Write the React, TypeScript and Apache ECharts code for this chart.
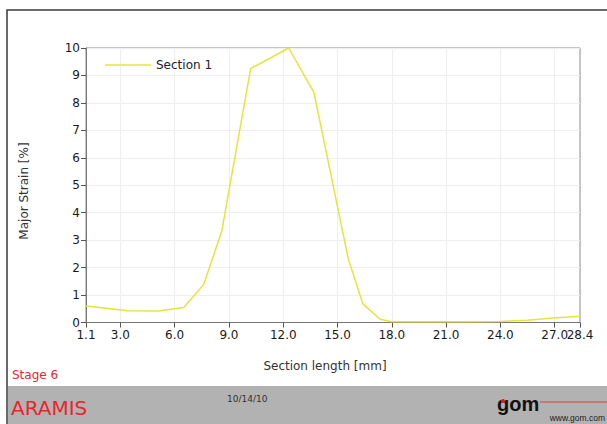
import React, { useEffect, useRef } from "react";
import * as echarts from "echarts";

const sectionX = [1.1, 3.4, 5.1, 6.5, 7.6, 8.6, 10.2, 12.3, 13.7, 15.6, 16.4, 17.35, 18.0, 19.5, 21.0, 22.5, 24.0, 25.5, 26.9, 28.4];
const majorStrain = [0.6, 0.43, 0.42, 0.55, 1.38, 3.32, 9.25, 10.0, 8.37, 2.3, 0.68, 0.12, 0.03, 0.03, 0.03, 0.03, 0.04, 0.08, 0.16, 0.23];
const xTickValues = [1.1, 3, 6, 9, 12, 15, 18, 21, 24, 27];
const xEndTick = [28.4];
const seriesName = "Section 1";

export default function App() {
  const ref = useRef<HTMLDivElement>(null);
  useEffect(() => {
    if (!ref.current) return;
    const chart = echarts.init(ref.current, null, { renderer: "svg" });
    const font = "DejaVu Sans";
    const labelStyle = {
      formatter: (v: number) => v.toFixed(1),
      fontFamily: font,
      fontSize: 12,
      color: "#1a1a1a",
      margin: 6,
      hideOverlap: false,
    };
    chart.setOption({
      animation: false,
      grid: { left: 86, right: 27, top: 48, bottom: 101.5, show: true, borderColor: "#8a8a8a", borderWidth: 1 },
      legend: {
        left: 100,
        top: 54,
        itemWidth: 46,
        itemHeight: 14,
        itemGap: 6,
        textStyle: { fontFamily: font, fontSize: 12, color: "#222" },
        data: [{ name: seriesName, icon: "path://M0,7 L46,7 L46,8.5 L0,8.5 Z" }],
      },
      xAxis: [
        {
          type: "value",
          min: 1.1,
          max: 28.4,
          axisLine: { show: true, lineStyle: { color: "#777" } },
          axisTick: { show: true, length: 5, lineStyle: { color: "#555" }, customValues: xTickValues },
          axisLabel: { ...labelStyle, customValues: xTickValues },
          splitLine: { show: true, lineStyle: { color: "#eeeeee" } },
        },
        {
          type: "value",
          position: "bottom",
          min: 1.1,
          max: 28.4,
          axisLine: { show: false },
          axisTick: { show: true, length: 5, lineStyle: { color: "#555" }, customValues: xEndTick },
          axisLabel: { ...labelStyle, customValues: xEndTick },
          splitLine: { show: false },
        },
      ],
      yAxis: {
        type: "value",
        min: 0,
        max: 10,
        interval: 1,
        axisLine: { show: true, lineStyle: { color: "#777" } },
        axisTick: { show: true, length: 5, lineStyle: { color: "#555" } },
        axisLabel: { fontFamily: font, fontSize: 12, color: "#1a1a1a", margin: 6 },
        splitLine: { show: true, lineStyle: { color: "#eeeeee" } },
      },
      series: [
        {
          name: seriesName,
          type: "line",
          symbol: "none",
          xAxisIndex: 0,
          lineStyle: { color: "#e4e43c", width: 1.5 },
          itemStyle: { color: "#e4e43c" },
          data: sectionX.map((x, i) => [x, majorStrain[i]]),
        },
      ],
      graphic: [
        { type: "rect", shape: { x: 8, y: 386, width: 620, height: 50 }, style: { fill: "#b2b2b2" }, silent: true },
        { type: "rect", shape: { x: 7, y: 10, width: 700, height: 500 }, style: { fill: "none", stroke: "#3a3a3a", lineWidth: 1.5 }, silent: true },
        {
          type: "text",
          x: 24,
          y: 191,
          rotation: Math.PI / 2,
          style: { text: "Major Strain [%]", fontFamily: font, fontSize: 12, fill: "#333", align: "center", verticalAlign: "middle" },
        },
        {
          type: "text",
          x: 325,
          y: 366,
          style: { text: "Section length [mm]", fontFamily: font, fontSize: 12, fill: "#333", align: "center", verticalAlign: "middle" },
        },
        {
          type: "text",
          x: 12,
          y: 375,
          style: { text: "Stage 6", fontFamily: font, fontSize: 12, fill: "#e8262c", align: "left", verticalAlign: "middle" },
        },
        {
          type: "text",
          x: 11,
          y: 408,
          style: { text: "ARAMIS", fontFamily: font, fontSize: 20, fill: "#e8262c", align: "left", verticalAlign: "middle" },
        },
        {
          type: "text",
          x: 227,
          y: 399,
          style: { text: "10/14/10", fontFamily: font, fontSize: 9, fill: "#333", align: "left", verticalAlign: "middle" },
        },
        { type: "line", shape: { x1: 540, y1: 402, x2: 607, y2: 402 }, style: { stroke: "#e03a3a", lineWidth: 1 } },
        {
          type: "text",
          x: 497,
          y: 404,
          style: { text: "gom", fontFamily: "Liberation Sans", fontWeight: "bold", fontSize: 20, fill: "#111", align: "left", verticalAlign: "middle" },
        },
        { type: "circle", shape: { cx: 503, cy: 401, r: 2 }, style: { fill: "#e02020" } },
        {
          type: "text",
          x: 605,
          y: 417.5,
          style: { text: "www.gom.com", fontFamily: "Liberation Sans", fontSize: 8.5, fill: "#222", align: "right", verticalAlign: "middle" },
        },
      ],
    });
    return () => chart.dispose();
  }, []);
  return (
    <div
      ref={ref}
      style={{ position: "fixed", left: 0, top: 0, width: 607, height: 424, background: "#fff" }}
    />
  );
}
